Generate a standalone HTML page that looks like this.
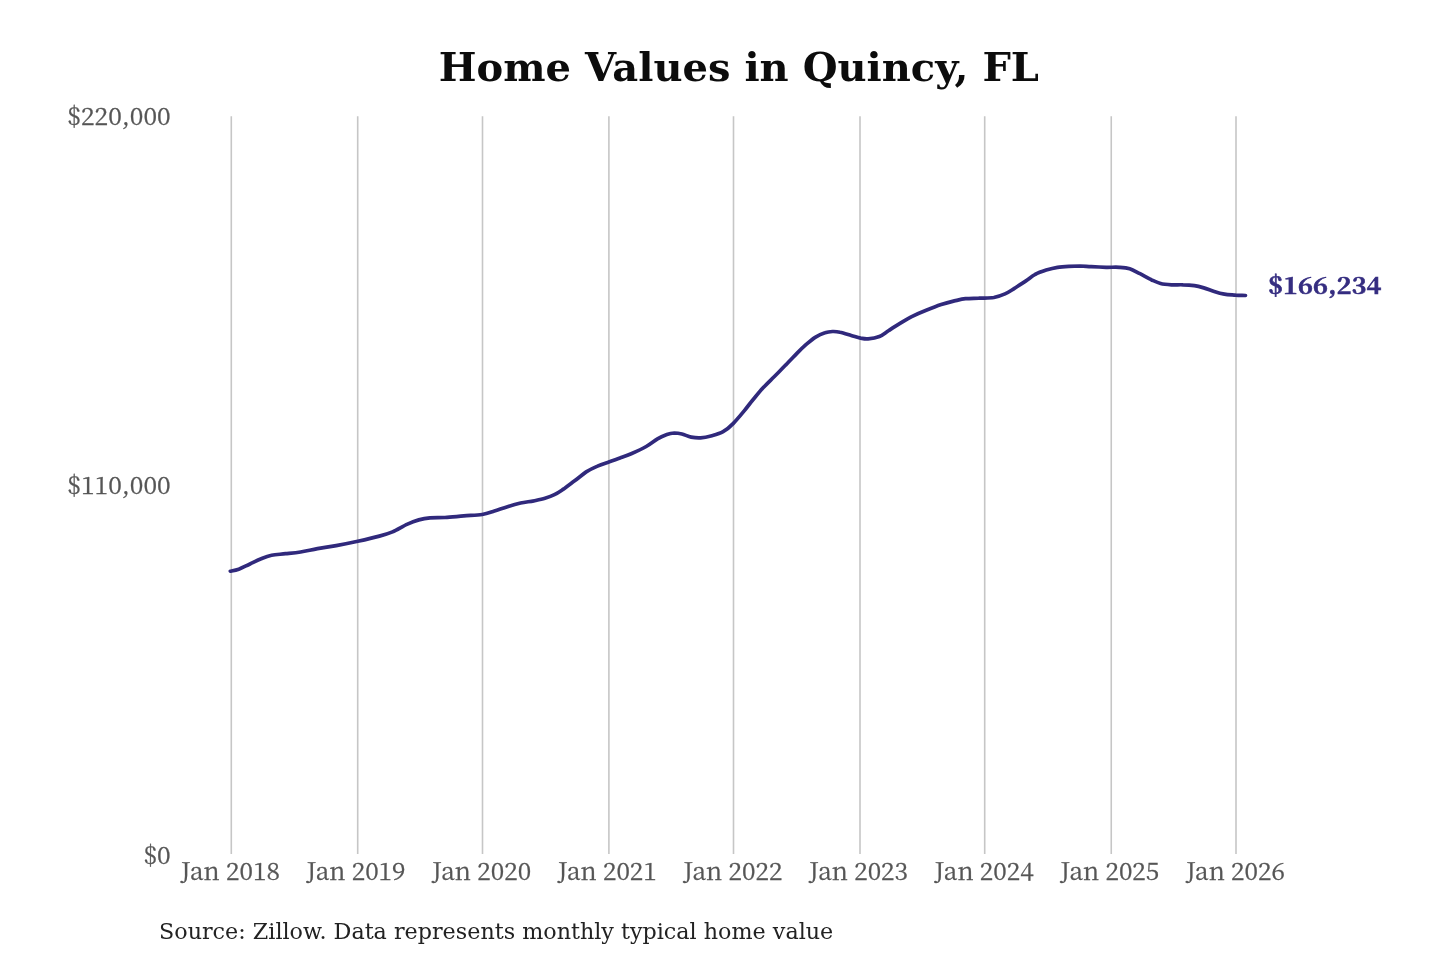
<!DOCTYPE html>
<html lang="en"><head><meta charset="utf-8"><title>Home Values in Quincy, FL</title>
<style>
html,body{margin:0;padding:0;background:#fff;}
body{width:1440px;height:960px;overflow:hidden;position:relative;}
svg{position:absolute;left:0;top:0;display:block;filter:blur(0.55px);}
.title{font-family:"DejaVu Serif","Liberation Serif",serif;font-weight:bold;font-size:40px;fill:#0c0c0c;text-anchor:middle;}
.tick{font-family:"Noto Serif CJK SC","DejaVu Serif","Liberation Serif",serif;font-size:24px;fill:#555;stroke:#555;stroke-width:0.3px;}
.xt text{text-anchor:middle;}
.yt text{text-anchor:end;}
.src{font-family:"DejaVu Serif","Liberation Serif",serif;font-size:22.25px;fill:#222;}
.end{font-family:"Noto Serif CJK SC","DejaVu Serif","Liberation Serif",serif;font-weight:bold;font-size:24px;fill:#352d80;stroke:#352d80;stroke-width:0.6px;}
.grid line{stroke:#c6c6c6;stroke-width:1.6;}
</style></head><body>
<svg width="1440" height="960" viewBox="0 0 1440 960">
<rect width="1440" height="960" fill="#ffffff"/>
<text class="title" x="738.9" y="81.4">Home Values in Quincy, FL</text>
<g class="grid"><line x1="231.30" y1="116.2" x2="231.30" y2="854"/><line x1="357.70" y1="116.2" x2="357.70" y2="854"/><line x1="482.50" y1="116.2" x2="482.50" y2="854"/><line x1="608.90" y1="116.2" x2="608.90" y2="854"/><line x1="733.50" y1="116.2" x2="733.50" y2="854"/><line x1="860.00" y1="116.2" x2="860.00" y2="854"/><line x1="984.70" y1="116.2" x2="984.70" y2="854"/><line x1="1111.25" y1="116.2" x2="1111.25" y2="854"/><line x1="1236.00" y1="116.2" x2="1236.00" y2="854"/></g>
<g class="tick yt"><text transform="translate(170.6 124.6) scale(1.03 1)">$220,000</text><text transform="translate(170.6 494.4) scale(1.03 1)">$110,000</text><text transform="translate(170.6 864.3) scale(1.03 1)">$0</text></g>
<g class="tick xt"><text transform="translate(230.35 879.6) scale(1.02 1)">Jan 2018</text><text transform="translate(355.98 879.6) scale(1.02 1)">Jan 2019</text><text transform="translate(481.61 879.6) scale(1.02 1)">Jan 2020</text><text transform="translate(607.24 879.6) scale(1.02 1)">Jan 2021</text><text transform="translate(732.87 879.6) scale(1.02 1)">Jan 2022</text><text transform="translate(858.50 879.6) scale(1.02 1)">Jan 2023</text><text transform="translate(984.13 879.6) scale(1.02 1)">Jan 2024</text><text transform="translate(1109.76 879.6) scale(1.02 1)">Jan 2025</text><text transform="translate(1235.39 879.6) scale(1.02 1)">Jan 2026</text></g>
<path style="filter:blur(0.6px)" d="M230.3 571.2 C231.7 570.9 235.5 570.4 238.8 569.2 C242.0 568.0 246.2 565.7 250.0 564.0 C253.8 562.2 257.6 560.1 261.2 558.7 C264.9 557.2 267.5 556.1 271.6 555.3 C275.7 554.5 280.8 554.3 285.6 553.7 C290.4 553.2 295.3 552.8 300.6 552.0 C305.9 551.1 311.6 549.7 317.5 548.6 C323.4 547.6 329.5 546.8 336.2 545.6 C343.0 544.4 350.6 542.9 357.8 541.3 C365.0 539.7 373.6 537.7 379.4 536.1 C385.2 534.6 387.8 533.9 392.5 531.9 C397.2 529.9 403.1 526.0 407.5 524.1 C411.9 522.1 415.0 521.0 418.8 519.9 C422.5 518.9 425.6 518.3 430.0 517.9 C434.4 517.5 439.4 517.8 445.0 517.5 C450.6 517.2 457.6 516.4 463.8 515.9 C469.9 515.4 477.1 515.3 482.2 514.5 C487.3 513.7 490.2 512.4 494.4 511.1 C498.6 509.8 503.1 508.0 507.5 506.7 C511.9 505.3 516.2 504.0 520.6 503.0 C525.0 502.0 529.7 501.7 533.8 500.9 C537.8 500.0 541.6 499.2 545.0 498.2 C548.4 497.2 551.3 496.3 554.4 494.7 C557.5 493.2 560.3 491.2 563.8 488.9 C567.2 486.5 571.2 483.4 575.0 480.6 C578.8 477.8 582.5 474.4 586.2 471.9 C590.0 469.5 593.8 467.7 597.5 466.1 C601.2 464.4 605.0 463.3 608.8 462.0 C612.5 460.7 616.2 459.4 620.0 458.0 C623.8 456.6 626.9 455.6 631.2 453.7 C635.6 451.8 641.9 449.0 646.2 446.5 C650.6 444.1 654.1 440.9 657.5 438.9 C660.9 436.8 664.1 435.4 666.9 434.4 C669.7 433.4 671.9 433.1 674.4 433.0 C676.9 433.0 679.1 433.3 681.9 434.0 C684.7 434.7 688.1 436.5 691.2 437.1 C694.4 437.7 697.2 438.0 700.6 437.8 C704.0 437.6 708.1 436.7 711.9 435.7 C715.6 434.7 719.6 433.7 723.1 431.7 C726.6 429.7 729.6 427.2 733.1 423.6 C736.6 420.1 741.0 414.7 744.4 410.6 C747.8 406.4 750.6 402.6 753.8 398.8 C756.9 395.0 759.7 391.5 763.1 387.8 C766.5 384.1 770.6 380.3 774.4 376.5 C778.1 372.7 781.9 369.0 785.6 365.1 C789.4 361.3 793.5 356.9 796.9 353.4 C800.3 349.9 803.1 347.1 806.2 344.4 C809.4 341.7 812.5 339.0 815.6 337.1 C818.7 335.2 822.2 333.7 825.0 332.8 C827.8 331.8 830.0 331.6 832.5 331.5 C835.0 331.4 836.9 331.5 840.0 332.2 C843.1 332.8 847.8 334.4 851.2 335.4 C854.7 336.4 857.8 337.5 860.6 338.1 C863.4 338.6 865.0 339.1 868.1 338.8 C871.2 338.6 876.0 337.9 879.4 336.5 C882.8 335.1 885.3 332.7 888.8 330.5 C892.2 328.3 896.2 325.7 900.0 323.4 C903.8 321.1 906.9 319.0 911.2 316.8 C915.6 314.7 921.2 312.3 926.2 310.3 C931.2 308.3 936.6 306.2 941.2 304.6 C945.9 303.0 950.3 301.9 954.4 300.9 C958.5 300.0 961.5 299.2 965.6 298.7 C969.7 298.3 974.1 298.4 978.8 298.2 C983.4 297.9 989.4 298.2 993.8 297.5 C998.1 296.7 1001.6 295.4 1005.0 293.9 C1008.4 292.4 1011.0 290.5 1014.4 288.4 C1017.8 286.2 1022.2 283.4 1025.6 281.1 C1029.0 278.8 1031.6 276.4 1035.0 274.5 C1038.4 272.7 1042.5 271.3 1046.2 270.1 C1050.0 268.9 1053.8 267.9 1057.5 267.3 C1061.2 266.7 1065.0 266.5 1068.8 266.3 C1072.5 266.1 1076.2 266.0 1080.0 266.0 C1083.8 266.1 1086.9 266.4 1091.2 266.6 C1095.6 266.8 1101.6 267.1 1106.2 267.3 C1110.9 267.4 1115.5 267.0 1119.4 267.3 C1123.3 267.5 1126.3 267.6 1129.7 268.7 C1133.1 269.8 1136.4 271.9 1140.0 273.7 C1143.6 275.6 1147.8 278.0 1151.2 279.7 C1154.7 281.3 1157.2 282.7 1160.6 283.5 C1164.0 284.4 1168.2 284.6 1171.9 284.8 C1175.7 285.0 1179.3 284.6 1183.1 284.8 C1186.8 284.9 1191.0 285.2 1194.4 285.7 C1197.8 286.2 1200.3 286.9 1203.8 287.9 C1207.2 288.9 1211.6 290.7 1215.0 291.7 C1218.4 292.8 1221.0 293.5 1224.4 294.1 C1227.8 294.7 1232.1 294.8 1235.6 295.1 C1239.1 295.3 1243.8 295.4 1245.5 295.5" fill="none" stroke="#30297c" stroke-width="3.7" stroke-linecap="round" stroke-linejoin="round"/>
<text class="end" transform="translate(1268 294.3) scale(1.06 1)">$166,234</text>
<text class="src" x="159" y="939">Source: Zillow. Data represents monthly typical home value</text>
</svg>
</body></html>
